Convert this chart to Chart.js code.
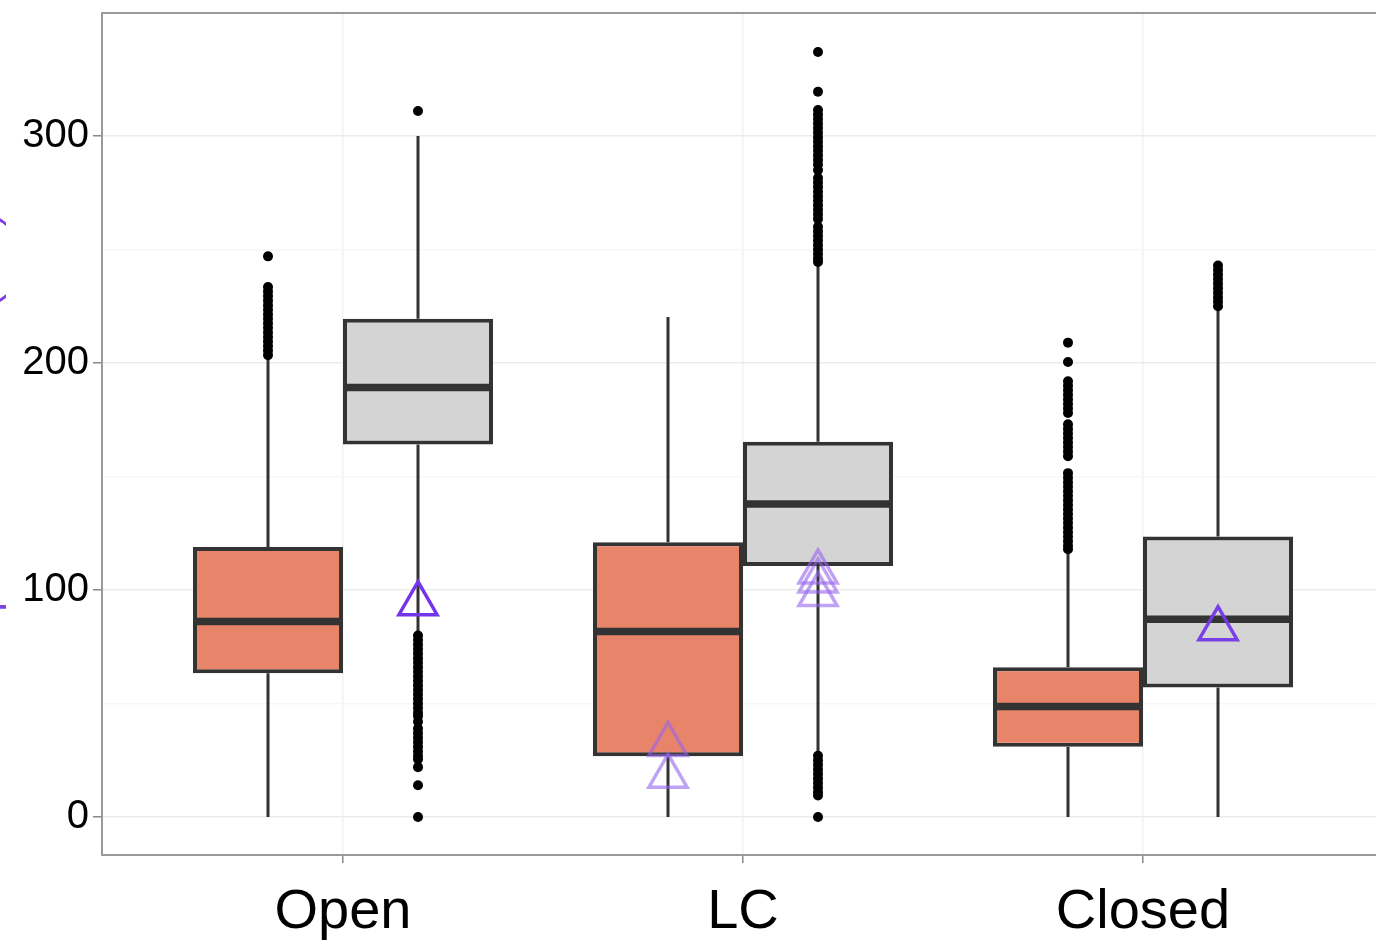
<!DOCTYPE html>
<html>
<head>
<meta charset="utf-8">
<script src="https://cdn.jsdelivr.net/npm/chart.js@4.4.0/dist/chart.umd.min.js"></script>
<style>
  html, body { margin: 0; padding: 0; background: #fff; overflow: hidden; }
  #wrap { position: relative; width: 1416px; height: 942px; margin-left: -40px; }
</style>
</head>
<body>
<div id="wrap"><canvas id="box"></canvas></div>
<script>
const categories = ["Open", "LC", "Closed"];

// orange boxes
const aMin = [0, 0, 0];
const aQ1 = [63.4, 26.8, 31];
const aMed = [86.2, 81.8, 48.7];
const aQ3 = [119, 121.1, 66];
const aMax = [203, 220.3, 117];

// grey boxes
const bMin = [81, 28.5, 0];
const bQ1 = [164.1, 110.6, 57.1];
const bMed = [189.2, 137.9, 87.1];
const bQ3 = [219.5, 165.3, 123.6];
const bMax = [300, 244, 224];

// outliers
const aOut = [
  [247, 233.5, 231.5, 229.5, 227.5, 225.5, 223.5, 221.5, 219.5, 217.5, 215.5, 213.5, 211.5, 209.5, 207.5, 205.5, 203.5],
  [],
  [209, 200.5, 192, 190, 188, 186, 184, 182, 180, 178, 173, 171, 169, 167, 165, 163, 161, 159,
   151.5, 149.5, 147.5, 145.5, 143.5, 141.5, 139.5, 137.5, 135.5, 133.5, 131.5, 129.5, 127.5, 125.5, 123.5, 121.5, 119.5, 118]
];
const bOut = [
  [311, 80, 78, 76, 74, 72, 70, 68, 66, 64, 62, 60, 58, 56, 54, 52, 50, 48, 46, 44.5, 42,
   39, 37, 35, 33, 31, 29, 27, 25.5, 22, 14, 0],
  [337, 319.5, 311.5, 309.5, 307.5, 305.5, 303.5, 301.5, 299.5, 297.5, 295.5, 293.5, 291.5, 289.5, 287.5, 285,
   281.5, 279.5, 277.5, 275.5, 273.5, 271.5, 269.5, 267.5, 265.5, 263.5, 260, 258, 256, 254, 252, 250, 248, 246, 244.5,
   27, 25, 23, 21, 19, 17, 15, 13, 11, 9.5, 0],
  [243, 241, 239, 237, 235, 233, 231, 229, 227, 225]
];

// triangle markers
const aMarks = [[], [32, 18], []];
const bMarks = [[94], [108, 104, 98], [83]];

const yTicks = [0, 100, 200, 300];
const yMinor = [50, 150, 250];

const CAT_PCT = 0.75;
const DODGE = CAT_PCT / 4;
const markColors = ["rgba(116,52,236,1)", "rgba(150,100,236,0.6)", "rgba(116,56,232,0.95)"];
const FONT = "'Liberation Sans', Arial, Helvetica, sans-serif";

function points(lists, shift) {
  const out = [];
  lists.forEach((vals, i) => vals.forEach(v => out.push({ x: i + shift, y: v })));
  return out;
}
function markColorList(lists) {
  const out = [];
  lists.forEach((vals, i) => vals.forEach(() => out.push(markColors[i])));
  return out;
}

const boxParts = {
  id: "boxParts",
  beforeDatasetsDraw(chart) {
    const ctx = chart.ctx, y = chart.scales.y;
    chart.data.datasets.forEach((ds, di) => {
      if (!ds.stats) return;
      chart.getDatasetMeta(di).data.forEach((bar, i) => {
        ctx.save();
        ctx.strokeStyle = "#333";
        ctx.lineWidth = 3;
        ctx.beginPath();
        ctx.moveTo(bar.x, y.getPixelForValue(ds.stats.min[i]));
        ctx.lineTo(bar.x, y.getPixelForValue(ds.stats.q1[i]));
        ctx.moveTo(bar.x, y.getPixelForValue(ds.stats.q3[i]));
        ctx.lineTo(bar.x, y.getPixelForValue(ds.stats.max[i]));
        ctx.stroke();
        ctx.restore();
      });
    });
  },
  afterDatasetDraw(chart, args) {
    const ds = chart.data.datasets[args.index];
    if (!ds.stats) return;
    const ctx = chart.ctx, y = chart.scales.y;
    args.meta.data.forEach((bar, i) => {
      const py = y.getPixelForValue(ds.stats.med[i]);
      ctx.save();
      ctx.strokeStyle = "#333";
      ctx.lineWidth = 7.5;
      ctx.beginPath();
      ctx.moveTo(bar.x - bar.width / 2, py);
      ctx.lineTo(bar.x + bar.width / 2, py);
      ctx.stroke();
      ctx.restore();
    });
  },
  afterDraw(chart) {
    const { ctx, chartArea } = chart;
    ctx.save();
    ctx.strokeStyle = "#9a9a9a";
    ctx.lineWidth = 2;
    ctx.beginPath();
    ctx.moveTo(chartArea.left, chartArea.top);
    ctx.lineTo(chartArea.right, chartArea.top);
    ctx.stroke();
    ctx.restore();
  }
};

new Chart(document.getElementById("box"), {
  type: "bar",
  plugins: [boxParts],
  data: {
    datasets: [
      {
        type: "scatter",
        order: 0,
        data: points(aMarks, -DODGE).concat(points(bMarks, DODGE)),
        pointStyle: "triangle",
        pointRadius: 22,
        backgroundColor: "rgba(0,0,0,0)",
        borderColor: markColorList(aMarks).concat(markColorList(bMarks)),
        borderWidth: 3.5
      },
      {
        type: "scatter",
        order: 1,
        data: points(aOut, -DODGE).concat(points(bOut, DODGE)),
        pointRadius: 5,
        pointBorderWidth: 0,
        backgroundColor: "#000"
      },
      {
        order: 2,
        data: categories.map((c, i) => ({ x: i, y: [aQ1[i], aQ3[i]] })),
        stats: { min: aMin, q1: aQ1, med: aMed, q3: aQ3, max: aMax },
        backgroundColor: "#e8846a",
        borderColor: "#333",
        borderWidth: 4,
        borderSkipped: false,
        categoryPercentage: CAT_PCT,
        barPercentage: 1
      },
      {
        order: 2,
        data: categories.map((c, i) => ({ x: i, y: [bQ1[i], bQ3[i]] })),
        stats: { min: bMin, q1: bQ1, med: bMed, q3: bQ3, max: bMax },
        backgroundColor: "#d4d4d4",
        borderColor: "#333",
        borderWidth: 4,
        borderSkipped: false,
        categoryPercentage: CAT_PCT,
        barPercentage: 1
      }
    ]
  },
  options: {
    responsive: true,
    maintainAspectRatio: false,
    animation: false,
    layout: { autoPadding: false, padding: { top: 13, right: 0, left: 0, bottom: 0 } },
    plugins: { legend: { display: false }, tooltip: { enabled: false } },
    scales: {
      x: {
        type: "linear",
        offset: false,
        min: -0.6025,
        max: 2.5825,
        afterBuildTicks: s => { s.ticks = categories.map((c, i) => ({ value: i })); },
        afterFit: s => { s.height = 87; s.paddingLeft = 0; s.paddingRight = 0; },
        ticks: {
          callback: v => categories[v] ?? "",
          color: "#000",
          font: { family: FONT, size: 56 },
          padding: 16,
          maxRotation: 0,
          autoSkip: false
        },
        grid: { offset: false, color: "#f1f1f1", lineWidth: 1.5, tickLength: 8, tickColor: "#888", tickWidth: 1.5 },
        border: { color: "#9a9a9a", width: 2 }
      },
      y: {
        type: "linear",
        min: -16.7,
        max: 354.2,
        afterBuildTicks: s => { s.ticks = yTicks.concat(yMinor).sort((p, q) => p - q).map(v => ({ value: v })); },
        afterFit: s => { s.width = 142; s.paddingTop = 0; s.paddingBottom = 0; },
        ticks: {
          callback: v => (yTicks.includes(v) ? String(v) : ""),
          color: "#000",
          font: { family: FONT, size: 40 },
          padding: 4
        },
        grid: {
          color: c => (yTicks.includes(c.tick.value) ? "#ececec" : "#f7f7f7"),
          lineWidth: 1.5,
          tickLength: 9,
          tickColor: c => (yTicks.includes(c.tick.value) ? "#888" : "rgba(0,0,0,0)"),
          tickWidth: 1.5
        },
        border: { color: "#9a9a9a", width: 2 },
        title: {
          display: true,
          text: "exposure duration (min)",
          color: "#7b3fe4",
          font: { family: FONT, size: 42 },
          padding: 0
        }
      }
    }
  }
});
</script>
</body>
</html>
